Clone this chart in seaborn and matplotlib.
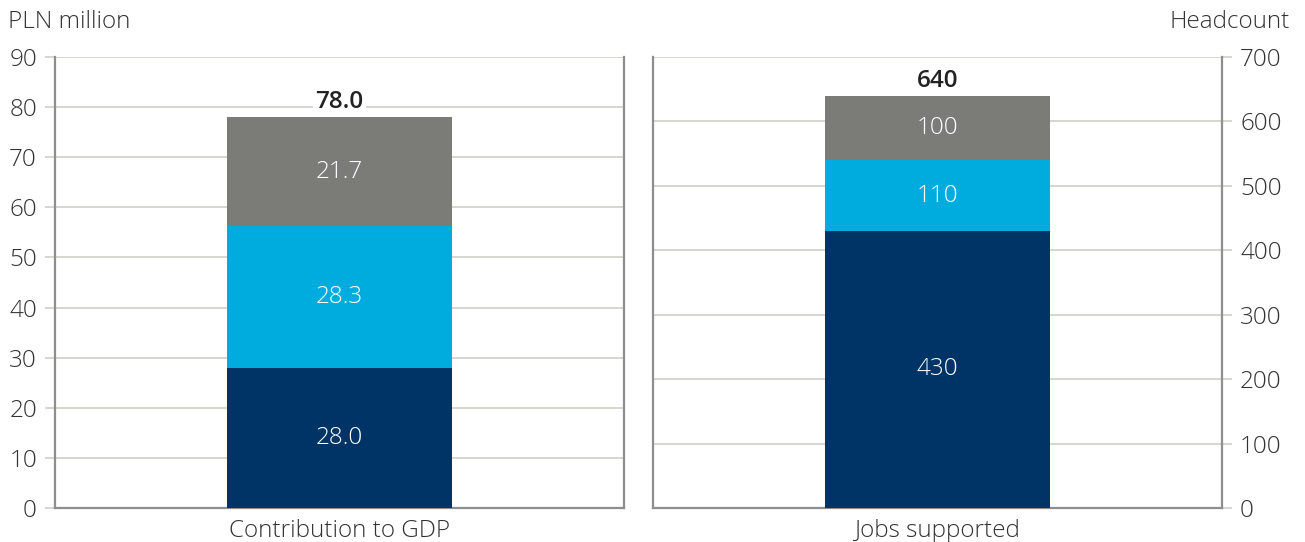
import matplotlib
matplotlib.use("Agg")
import matplotlib.pyplot as plt
import seaborn as sns
import pandas as pd

sns.set_theme(style="white")
plt.rcParams['font.family'] = ['Open Sans', 'DejaVu Sans']
plt.rcParams['font.weight'] = 'light'

# Data
segments = ["Direct", "Indirect", "Induced"]
gdp_values = [28.0, 28.3, 21.7]
gdp_total = 78.0
jobs_values = [430, 110, 100]
jobs_total = 640
categories = ["Contribution to GDP", "Jobs supported"]
gdp_ticks = [0, 10, 20, 30, 40, 50, 60, 70, 80, 90]
jobs_ticks = [0, 100, 200, 300, 400, 500, 600, 700]

colors = ["#003366", "#00ACDE", "#7B7C77"]
grid_c = "#D3D2CD"
spine_c = "#8E8E8E"
text_c = "#333333"
FS = 17.5

fig = plt.figure(figsize=(13.05, 5.42), dpi=100)
axL = fig.add_axes([55/1305, 34/542, 569/1305, 451/542])
axR = fig.add_axes([653/1305, 34/542, 569/1305, 451/542])


def draw(ax, cat, values, total, ticks, fmt, side):
    bottom = 0
    for seg, v, c in zip(segments, values, colors):
        df = pd.DataFrame({"cat": [cat], "val": [v]})
        sns.barplot(data=df, x="cat", y="val", color=c, width=0.395,
                    bottom=bottom, ax=ax, saturation=1, linewidth=0, zorder=3)
        ax.text(0, bottom + v / 2, fmt(v), ha="center", va="center",
                color="white", fontsize=FS, zorder=4)
        bottom += v
    ax.text(0, total + ticks[-1] * 0.006, fmt(total), ha="center", va="bottom",
            color="#222222", fontsize=FS, fontweight="semibold", zorder=4,
            bbox=dict(facecolor="white", edgecolor="none", pad=2))
    ax.set_xlim(-0.5, 0.5)
    ax.set_ylim(0, ticks[-1])
    ax.set_yticks(ticks)
    ax.set_yticklabels([str(t) for t in ticks])
    ax.yaxis.grid(True, color=grid_c, linewidth=1.3, zorder=0)
    ax.set_axisbelow(True)
    ax.set_xlabel("")
    ax.set_ylabel("")
    ax.tick_params(axis="x", length=0, labelsize=FS, labelcolor=text_c, pad=8)
    ax.tick_params(axis="y", length=7, width=1.3, color=grid_c, labelsize=FS,
                   labelcolor=text_c, pad=6)
    for s in ["left", "right", "bottom"]:
        ax.spines[s].set_visible(True)
        ax.spines[s].set_color(spine_c)
        ax.spines[s].set_linewidth(1.6)
    ax.spines["top"].set_visible(False)
    if side == "right":
        ax.yaxis.tick_right()
    else:
        ax.yaxis.tick_left()


draw(axL, categories[0], gdp_values, gdp_total, gdp_ticks, lambda v: f"{v:.1f}", "left")
draw(axR, categories[1], jobs_values, jobs_total, jobs_ticks, lambda v: f"{v:.0f}", "right")

fig.text(8/1305, 1 - 22/542, "PLN million", ha="left", va="center",
         fontsize=FS, color=text_c)
fig.text(1290/1305, 1 - 22/542, "Headcount", ha="right", va="center",
         fontsize=FS, color=text_c)

fig.savefig("out.png", dpi=100)
